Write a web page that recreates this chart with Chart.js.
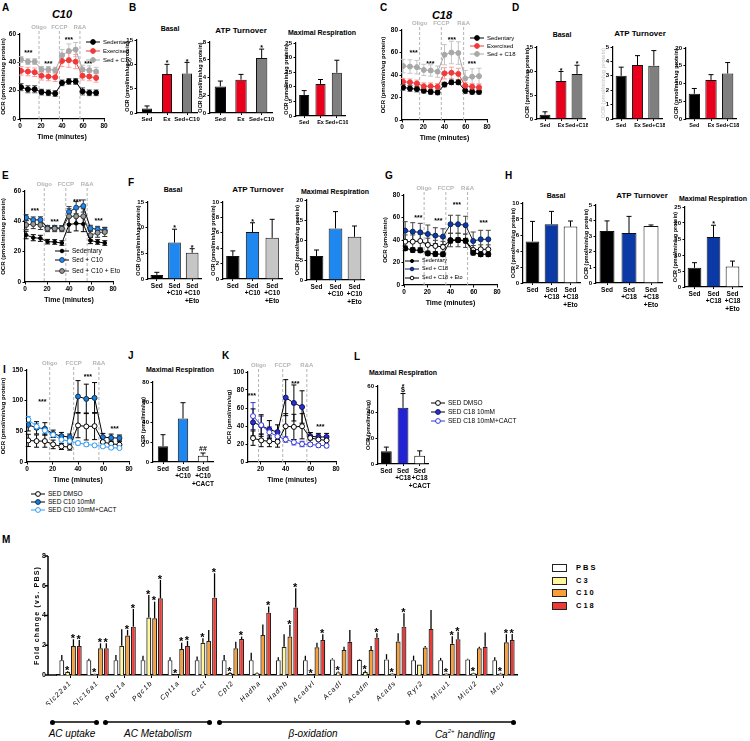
<!DOCTYPE html>
<html>
<head>
<meta charset="utf-8">
<title>OCR and gene expression</title>
<script src="https://cdn.jsdelivr.net/npm/chart.js@4.4.1/dist/chart.umd.min.js"></script>
<style>
  body { margin: 0; background: #fff; }
  #fig { position: relative; width: 750px; height: 741px; overflow: hidden; font-family: Arial, "Liberation Sans", sans-serif; color: #000; }
  #fig canvas { position: absolute; }
  .t { position: absolute; white-space: nowrap; line-height: 1; }
</style>
</head>
<body>
<div id="fig"></div>
<script>
// ---- time course data (Seahorse, 12 measurements) ----
const times = [1, 7.5, 14, 20.5, 27, 33.5, 40, 46.5, 53, 59.5, 66, 72.5];
// panel K only shows the measurements from 14 min on (axis starts at 10)
const kTimes = [14, 20.5, 27, 33.5, 40, 46.5, 53, 59.5, 66, 72.5];

const aSed = [22.5, 21, 21, 19, 18.5, 18, 25.5, 26.5, 26.5, 19.5, 18.5, 18.5];
const aSedErr = [2.5, 2.5, 2.5, 2, 2, 2, 2, 2, 2, 2.5, 2, 2];
const aEx = [34, 33.5, 33, 30.5, 30, 29.5, 41, 41.5, 40.5, 30.5, 30, 29];
const aExErr = [3, 3, 3, 3, 3, 3, 4, 5, 5, 3, 3, 3];
const aC10 = [42, 40.5, 40.5, 35, 35, 34.5, 45, 48, 49, 35, 34.5, 33.5];
const aC10Err = [2, 2, 2, 2, 2, 2, 4, 5, 5, 3, 3, 3];

const cSed = [29, 28, 27.5, 26, 25, 24.5, 31.5, 33.5, 33.5, 26, 25, 25];
const cSedErr = [2.5, 2.5, 2.5, 2, 2, 2, 2, 2, 2, 2.5, 2, 2];
const cEx = [34, 33.5, 32.5, 30, 30, 29.5, 41.5, 42, 41, 30.5, 29.5, 29];
const cExErr = [3, 3, 3, 3, 3, 3, 5, 5, 5, 3, 3, 3];
const cC18 = [48, 47.5, 47, 44.5, 44, 43, 58, 60, 59.5, 37, 38.5, 39];
const cC18Err = [6, 6, 6, 5, 5, 5, 9, 10, 10, 7, 7, 7];

const eSed = [31, 29.2, 28.8, 26.6, 26.4, 25.7, 37.8, 38.7, 38.2, 27.3, 26.4, 25.7];
const eSedErr = [2.5, 2, 2, 1.5, 1.5, 1.5, 5, 5, 5, 2, 1.5, 1.5];
const eC10 = [42.4, 40.9, 41, 35.8, 35.8, 35.4, 46.2, 49, 50.1, 35.4, 34.7, 34];
const eC10Err = [2, 2, 2, 1.5, 1.5, 1.5, 3.5, 4, 4, 2, 2, 2];
const eEto = [37.6, 38.2, 37.6, 35.2, 35.2, 35.2, 43.3, 43.3, 43.3, 30.8, 32.5, 33];
const eEtoErr = [3, 3, 3, 2, 2, 2, 5, 5, 5, 3, 3, 3];

const gSed = [32.6, 31.1, 30.8, 28.1, 27.6, 27.3, 39.4, 40, 39.4, 28.7, 27.3, 27.3];
const gSedErr = [2, 2, 2, 2, 2, 2, 2, 2, 2, 2, 2, 2];
const gC18 = [48.3, 47.4, 46.8, 45.3, 43.9, 43, 54, 54, 53.1, 39.1, 40.6, 40.6];
const gC18Err = [8, 8, 8, 8, 7, 7, 8, 8, 8, 8, 8, 8];
const gEto = [38.5, 38.5, 39.1, 35.6, 34.7, 33.8, 40, 40, 39.4, 31.1, 31.7, 31.7];
const gEtoErr = [6, 6, 6, 6, 5, 5, 6, 6, 6, 4, 4, 4];

const iDmso = [35.2, 34.1, 34.1, 28.7, 25.4, 24.4, 59.6, 57.9, 58.5, 32.5, 29.8, 28.2];
const iDmsoErr = [10, 10, 10, 7, 5, 5, 20, 22, 22, 8, 6, 6];
const iC10 = [60.6, 55.8, 54.1, 46, 42.2, 40.6, 106.7, 102.9, 104.5, 40.6, 39.5, 39];
const iC10Err = [10, 10, 10, 6, 6, 5, 26, 24, 25, 6, 6, 5];
const iCact = [69.3, 57.9, 51.4, 44.4, 36.3, 34.1, 30.9, 28.7, 27.1, 25.4, 23.3, 22.7];
const iCactErr = [5, 5, 5, 4, 3, 3, 3, 3, 2, 2, 2, 2];

const kDmso = [26.5, 24, 23, 22.5, 39.7, 39, 39.7, 26.7, 25, 24];
const kDmsoErr = [8, 7, 6, 6, 14, 14, 14, 6, 5, 5];
const kC18 = [44, 40.5, 36, 33.3, 71.5, 65.6, 61.1, 28.6, 27.8, 27.8];
const kC18Err = [15, 12, 10, 8, 20, 20, 18, 4, 4, 4];
const kCact = [51, 41, 33, 28.5, 25, 22, 20, 19.5, 18.5, 18];
const kCactErr = [15, 10, 6, 4, 3, 3, 3, 2, 2, 2];

// ---- bar data ----
const bBasal = [0.9, 8, 8.1], bBasalErr = [0.55, 2, 2.3];
const bAtp = [3, 3.75, 6.2], bAtpErr = [0.6, 0.6, 1.0];
const bMax = [7.2, 11, 14.8], bMaxErr = [1.5, 1.5, 4.3];
const dBasal = [0.9, 7.9, 9.4], dBasalErr = [0.6, 2.0, 1.8];
const dAtp = [3.0, 3.75, 3.7], dAtpErr = [0.6, 0.65, 1.05];
const dMax = [7.1, 11, 12.8], dMaxErr = [1.5, 1.5, 3.1];
const fBasal = [0.8, 7.1, 5.1], fBasalErr = [0.5, 2.6, 0.8];
const fAtp = [3.0, 6.1, 5.35], fAtpErr = [0.65, 1.2, 2.4];
const fMax = [6.0, 12.9, 10.8], fMaxErr = [1.5, 4.2, 2.7];
const hBasal = [5.2, 7.35, 7.05], hBasalErr = [2.5, 1.6, 0.7];
const hAtp = [3.33, 3.2, 3.65], hAtpErr = [0.65, 1.07, 0.07];
const hMax = [6.0, 15.6, 6.4], hMaxErr = [1.6, 3.7, 1.7];
const jMax = [15.8, 43.5, 6.2], jMaxErr = [11.5, 15.8, 2.8];
const lMax = [9.8, 43.2, 6.3], lMaxErr = [3.2, 11, 3.8];

// ---- panel M: gene expression ----
const genes = ['Slc22a1', 'Slc16a1', 'Pgc1a', 'Pgc1b', 'Cpt1a', 'Cact', 'Cpt2', 'Hadha', 'Hadhb', 'Acadvl', 'Acadl', 'Acadm', 'Acads', 'Ryr2', 'Micu1', 'Micu2', 'Mcu'];
const pbs = [1.0, 1.0, 1.0, 1.0, 1.0, 1.0, 1.0, 1.0, 1.0, 1.0, 1.05, 1.03, 1.05, 1.0, 1.0, 1.05, 1.0];
const pbsErr = [0.35, 0.1, 0.35, 0.3, 0.2, 0.25, 0.35, 0.5, 0.2, 0.3, 0.07, 0.05, 0.35, 0.3, 0.15, 0.05, 0.2];
const c3 = [0.22, 0.08, 1.97, 3.86, 0.05, 2.17, 0.15, 0.12, 1.9, 0.05, 0.18, 0.2, 0.1, 0.7, 0.1, 0.12, 0.1];
const c3Err = [0.05, 0.02, 1.1, 1.52, 0.02, 0.3, 0.05, 0.05, 0.84, 0.02, 0.05, 0.1, 0.03, 0, 0.03, 0.03, 0.05];
const c10 = [1.95, 1.8, 2.65, 3.81, 1.75, 2.29, 1.8, 2.69, 2.58, 1.86, 1.68, 1.68, 2.25, 1.85, 2.1, 1.8, 2.2];
const c10Err = [0.45, 0.33, 0.38, 1.12, 0.42, 0.74, 0.44, 0.71, 0.78, 0.31, 0.22, 0.27, 0.55, 0.1, 0.5, 0.1, 0.55];
const c18 = [1.95, 1.8, 3.25, 5.16, 1.95, 5.2, 2.42, 4.19, 4.53, 2.35, 2.24, 2.51, 3.25, 3.1, 2.4, 1.9, 2.35];
const c18Err = [0.4, 0.33, 1.19, 1.23, 0.34, 1.64, 0.16, 0.41, 1.3, 0.39, 0.79, 0.29, 0.9, 1.27, 0.5, 0.95, 0.4];
const c3Stars = [1, 1, 0, 1, 1, 1, 1, 0, 0, 1, 1, 1, 1, 0, 1, 1, 1];
const c10Stars = [1, 1, 1, 1, 1, 0, 0, 0, 1, 0, 0, 0, 0, 0, 1, 0, 1];
const c18Stars = [1, 1, 1, 1, 1, 1, 1, 1, 1, 1, 0, 1, 1, 0, 1, 0, 1];

// ---- setup ----
const fig = document.getElementById('fig');
const FONT = 'Arial, "Liberation Sans", sans-serif';
Chart.defaults.font.family = FONT;
Chart.defaults.color = '#000';
Chart.defaults.animation = false;
Chart.defaults.events = [];
Chart.defaults.plugins.legend.display = false;
Chart.defaults.plugins.tooltip.enabled = false;

function drawErr(chart, after) {
  const ctx = chart.ctx, ys = chart.scales.y;
  chart.data.datasets.forEach((ds, i) => {
    if (!ds.errors || !!ds.errAfter !== after) return;
    const meta = chart.getDatasetMeta(i);
    ctx.save();
    ctx.strokeStyle = ds.errColor || '#000';
    ctx.lineWidth = ds.errWidth || 1;
    meta.data.forEach((el, j) => {
      const raw = ds.data[j];
      const v = typeof raw === 'number' ? raw : raw.y;
      const e = ds.errors[j];
      if (!e) return;
      const top = ys.getPixelForValue(v + e);
      const bot = after ? ys.getPixelForValue(v) : ys.getPixelForValue(v - e);
      const c = ds.cap === undefined ? 2.5 : ds.cap;
      ctx.beginPath();
      ctx.moveTo(el.x, top);
      ctx.lineTo(el.x, bot);
      if (c) {
        ctx.moveTo(el.x - c, top); ctx.lineTo(el.x + c, top);
        if (!after) { ctx.moveTo(el.x - c, bot); ctx.lineTo(el.x + c, bot); }
      }
      ctx.stroke();
    });
    ctx.restore();
  });
}

const errBars = {
  id: 'errBars',
  beforeDatasetsDraw(chart) { drawErr(chart, false); },
  afterDatasetsDraw(chart) { drawErr(chart, true); }
};

const vlinePlug = {
  id: 'vlinePlug',
  beforeDatasetsDraw(chart, args, opts) {
    if (!opts || !opts.at) return;
    const ctx = chart.ctx, xs = chart.scales.x, a = chart.chartArea;
    ctx.save();
    ctx.strokeStyle = '#b4b4b4';
    ctx.fillStyle = '#b4b4b4';
    ctx.lineWidth = 1;
    ctx.setLineDash([3, 2]);
    ctx.font = 'bold 6px ' + FONT;
    ctx.textAlign = 'center';
    opts.at.forEach((t, k) => {
      const x = xs.getPixelForValue(t);
      ctx.beginPath();
      ctx.moveTo(x, a.top - 3);
      ctx.lineTo(x, a.bottom);
      ctx.stroke();
      ctx.fillText(opts.labels[k], x, a.top - 5);
    });
    ctx.restore();
  }
};

const starPlug = {
  id: 'starPlug',
  afterDatasetsDraw(chart, args, opts) {
    const ctx = chart.ctx, xs = chart.scales.x, ys = chart.scales.y;
    const size = (opts && opts.size) || 7;
    ctx.save();
    ctx.fillStyle = '#000';
    ctx.textAlign = 'center';
    ctx.font = 'bold ' + size + 'px ' + FONT;
    ((opts && opts.at) || []).forEach(s => {
      ctx.fillText('***', xs.getPixelForValue(s.x), ys.getPixelForValue(s.y));
    });
    chart.data.datasets.forEach((ds, i) => {
      if (!ds.stars) return;
      const meta = chart.getDatasetMeta(i);
      meta.data.forEach((el, j) => {
        const s = ds.stars[j];
        if (!s) return;
        // bottom of the mark sits just above the error bar
        let base = ys.getPixelForValue(ds.data[j] + (ds.errors ? ds.errors[j] : 0)) - 1.5;
        String(s === 1 ? '*' : s).split('\n').reverse().forEach(line => {
          if (/^\*+$/.test(line)) {
            ctx.fillText(line, el.x, base + size * 0.38);
            base -= size * 0.42;
          } else {
            ctx.fillText(line, el.x, base - size * 0.05);
            base -= size * 0.85;
          }
        });
      });
    });
    ctx.restore();
  }
};

const offAxis = {
  id: 'offAxis',
  afterDraw(chart, args, opts) {
    if (!opts || !opts.gap) return;
    const ctx = chart.ctx, a = chart.chartArea, ys = chart.scales.y;
    const x = a.left - opts.gap;
    ctx.save();
    ctx.strokeStyle = '#000';
    ctx.lineWidth = 1.5;
    ctx.beginPath();
    ctx.moveTo(x, a.top);
    ctx.lineTo(x, a.bottom);
    ctx.lineTo(a.left, a.bottom);
    ys.ticks.forEach(t => {
      const y = ys.getPixelForValue(t.value);
      ctx.moveTo(x, y);
      ctx.lineTo(x - 3, y);
    });
    ctx.stroke();
    ctx.restore();
  }
};

const spacing = {
  id: 'spacing',
  beforeLayout(chart, args, opts) { if (opts && opts.px) chart.ctx.letterSpacing = opts.px + 'px'; },
  beforeDraw(chart, args, opts) { if (opts && opts.px) chart.ctx.letterSpacing = opts.px + 'px'; }
};

Chart.register(errBars, vlinePlug, starPlug, offAxis, spacing);

function canvasAt(rect, m) {
  const c = document.createElement('canvas');
  c.width = Math.round(rect[2] - rect[0] + m[1] + m[3]);
  c.height = Math.round(rect[3] - rect[1] + m[0] + m[2]);
  c.style.left = (rect[0] - m[3]) + 'px';
  c.style.top = (rect[1] - m[0]) + 'px';
  fig.appendChild(c);
  return c;
}

function txt(html, x, y, css, center) {
  const d = document.createElement('div');
  d.className = 't';
  d.innerHTML = html;
  d.style.cssText = 'left:' + x + 'px;top:' + y + 'px;' + (css || '') +
    (center ? 'transform:translate(-50%,-50%);' : 'transform:translateY(-50%);');
  fig.appendChild(d);
}

function key(x, y, label, o) {
  const svg = '<svg width="14" height="8" style="vertical-align:middle">' +
    '<line x1="0" y1="4" x2="14" y2="4" stroke="' + (o.line || o.c) + '" stroke-width="1"/>' +
    '<circle cx="7" cy="4" r="' + (o.r || 2.4) + '" fill="' + o.f + '" stroke="' + o.c + '" stroke-width="1"/></svg>';
  txt(svg + '<span style="margin-left:3px;vertical-align:middle">' + label + '</span>', x - 7, y, 'font-size:' + (o.fs || 6.5) + 'px;');
}

function yAxis(max, step, title, m, fs, titleColor) {
  return {
    min: 0, max: max,
    ticks: { stepSize: step, font: { size: fs, weight: 'bold' }, padding: 1.5 },
    grid: { drawOnChartArea: false, color: '#000', tickLength: 2.5 },
    border: { color: '#000', width: 1.2 },
    title: { display: !!title, text: title, color: titleColor || '#000', font: { size: fs - 0.5, weight: 'bold' }, padding: 0 },
    afterFit: s => { s.width = m[3]; s.paddingTop = 0; s.paddingBottom = 0; }
  };
}

function xTime(m, min) {
  return {
    type: 'linear', min: min || 0, max: 80,
    ticks: { stepSize: 20, font: { size: 6.5, weight: 'bold' }, padding: 1, maxRotation: 0, includeBounds: false },
    grid: { drawOnChartArea: false, color: '#000', tickLength: 2.5 },
    border: { color: '#000', width: 1.2 },
    title: { display: true, text: 'Time (minutes)', font: { size: 7, weight: 'bold' }, padding: { top: 2, bottom: 0 } },
    afterFit: s => { s.height = m[2]; s.paddingLeft = 0; s.paddingRight = 0; }
  };
}

function timeCourse(rect, o) {
  const m = [12, 8, 22, o.L || 20];
  const t = o.t || times;
  new Chart(canvasAt(rect, m), {
    type: 'line',
    data: {
      datasets: o.series.map(s => ({
        data: t.map((x, i) => ({ x: x, y: s.v[i] })),
        errors: s.e, errColor: s.ec || s.c,
        borderColor: s.line || s.c, borderWidth: 1,
        pointRadius: s.r || 2.5, pointBackgroundColor: s.f || s.c,
        pointBorderColor: s.c, pointBorderWidth: 1
      }))
    },
    options: {
      responsive: false,
      layout: { padding: { top: m[0], right: m[1], left: 0, bottom: 0 } },
      scales: { x: xTime(m, o.xmin), y: yAxis(o.max, o.step, o.title, m, 6.5) },
      plugins: {
        vlinePlug: { at: o.vl, labels: ['Oligo', 'FCCP', 'R&A'] },
        starPlug: { at: o.stars, size: 7 }
      }
    }
  });
}

function barPanel(rect, o) {
  const rows = Math.max(...o.cats.map(c => Array.isArray(c) ? c.length : 1));
  const m = [6, 3, Math.round(4 + rows * 7.8), o.L || 13];
  new Chart(canvasAt(rect, m), {
    type: 'bar',
    data: {
      labels: o.cats,
      datasets: [{
        data: o.v, errors: o.e, errAfter: true, errColor: '#000', stars: o.s,
        backgroundColor: o.col, borderColor: '#111', borderWidth: 1,
        barPercentage: o.bp, categoryPercentage: 1
      }]
    },
    options: {
      responsive: false,
      layout: { padding: { top: m[0], right: m[1], left: 0, bottom: 0 } },
      scales: {
        x: {
          ticks: { font: { size: o.xfs || 6.5, weight: 'bold' }, padding: 1, maxRotation: 0, autoSkip: false },
          grid: { drawOnChartArea: false, offset: false, color: '#000', tickLength: 2 },
          border: { color: '#000', width: 1.2 },
          afterFit: s => { s.height = m[2]; s.paddingLeft = 0; s.paddingRight = 0; }
        },
        y: yAxis(o.max, o.step, o.title === undefined ? 'OCR (pmol/min/ug protein)' : o.title, m, 6, o.tc)
      },
      plugins: { starPlug: { size: 7 } }
    }
  });
}

// ---- panel letters and titles ----
const letter = 'font-size:10px;font-weight:bold;';
[['A', 2, 8], ['B', 129, 8], ['C', 380, 8], ['D', 512, 8], ['E', 2, 176], ['F', 128, 183], ['G', 385, 176],
 ['H', 505, 176], ['I', 3, 370], ['J', 128, 356], ['K', 222, 356], ['L', 354, 357], ['M', 2, 540]]
  .forEach(p => txt(p[0], p[1], p[2], letter));
txt('C10', 62, 14, 'font-size:11px;font-weight:bold;font-style:italic;', true);
txt('C18', 442, 15, 'font-size:11px;font-weight:bold;font-style:italic;', true);
const tb = 'font-size:7px;font-weight:bold;';
const tatp = 'font-size:8px;font-weight:bold;';
txt('Basal', 170, 28, tb, true);
txt('ATP Turnover', 241, 31, tatp, true);
txt('Maximal Respiration', 322, 32, tb, true);
txt('Basal', 562, 34, tb, true);
txt('ATP Turnover', 640, 34, tatp, true);
txt('Basal', 173, 189, tb, true);
txt('ATP Turnover', 258, 190, tatp, true);
txt('Maximal Respiration', 335, 191, tb, true);
txt('Basal', 556, 195, tb, true);
txt('ATP Turnover', 642, 196, tatp, true);
txt('Maximal Respiration', 713, 198, tb, true);
txt('Maximal Respiration', 180, 369, tb, true);
txt('Maximal Respiration', 403, 372, tb, true);

// ---- A ----
timeCourse([20, 34, 104, 119.3], {
  max: 60, step: 20, title: 'OCR (pmol/min/ug protein)', vl: [18.1, 37.5, 57.1],
  stars: [{ x: 8, y: 45.5 }, { x: 27, y: 37.5 }, { x: 46.5, y: 54.5 }, { x: 65, y: 37.5 }],
  series: [
    { v: aC10, e: aC10Err, c: '#a8a8a8', ec: '#c4c4c4' },
    { v: aEx, e: aExErr, c: '#f03a3a', ec: '#f4a0a0' },
    { v: aSed, e: aSedErr, c: '#000', ec: '#555' }
  ]
});
key(93, 42, 'Sedentary', { c: '#000', f: '#000', fs: 6 });
key(93, 51, 'Exercised', { c: '#f03a3a', f: '#f03a3a', fs: 6 });
key(93, 60, 'Sed + C10', { c: '#a8a8a8', f: '#a8a8a8', fs: 6 });

// ---- B ----
const sedEx10 = ['Sed', 'Ex', 'Sed+C10'];
const colEx = ['#000', '#e8001c', '#7f7f7f'];
barPanel([137, 40, 197, 112.7], { cats: sedEx10, v: bBasal, e: bBasalErr, s: [0, 1, 1], col: colEx, max: 15, step: 5, bp: 0.5, xfs: 6 });
barPanel([210, 42, 272, 112.7], { cats: sedEx10, v: bAtp, e: bAtpErr, s: [0, 0, 1], col: colEx, max: 8, step: 2, bp: 0.55, xfs: 6 });
barPanel([296, 43, 345, 116], { cats: sedEx10, v: bMax, e: bMaxErr, col: colEx, max: 25, step: 5, bp: 0.62, xfs: 5.5 });

// ---- C ----
timeCourse([402, 30, 487, 120], {
  max: 80, step: 20, title: 'OCR (pmol/min/ug protein)', L: 22, vl: [16.6, 37, 58],
  stars: [{ x: 11, y: 58 }, { x: 26.7, y: 48 }, { x: 47, y: 69.5 }, { x: 65.8, y: 48 }],
  series: [
    { v: cC18, e: cC18Err, c: '#a8a8a8', ec: '#c4c4c4' },
    { v: cEx, e: cExErr, c: '#f03a3a', ec: '#f4a0a0' },
    { v: cSed, e: cSedErr, c: '#000', ec: '#555' }
  ]
});
key(477, 38, 'Sedentary', { c: '#000', f: '#000', fs: 6 });
key(477, 46, 'Exercised', { c: '#f03a3a', f: '#f03a3a', fs: 6 });
key(477, 54, 'Sed + C18', { c: '#a8a8a8', f: '#a8a8a8', fs: 6 });

// ---- D ----
const sedEx18 = ['Sed', 'Ex', 'Sed+C18'];
barPanel([537, 47, 585, 119], { cats: sedEx18, v: dBasal, e: dBasalErr, s: [0, 1, 1], col: colEx, max: 15, step: 5, bp: 0.68, xfs: 5.5 });
barPanel([613, 47, 662, 119], { cats: sedEx18, v: dAtp, e: dAtpErr, col: colEx, max: 5, step: 1, bp: 0.68, tc: '#d0d0d0', xfs: 5.5 });
barPanel([686, 48, 736, 119], { cats: sedEx18, v: dMax, e: dMaxErr, col: colEx, max: 20, step: 5, bp: 0.68, xfs: 5.5 });

// ---- E ----
timeCourse([25, 191, 113, 282], {
  max: 60, step: 20, title: 'OCR (pmol/min/ug protein)', L: 25, vl: [17.5, 37.1, 56.5],
  stars: [{ x: 9, y: 45.5 }, { x: 27, y: 38.5 }, { x: 47.4, y: 51.5 }, { x: 67, y: 39 }],
  series: [
    { v: eSed, e: eSedErr, c: '#000', r: 1.8 },
    { v: eEto, e: eEtoErr, c: '#333', f: '#9a9a9a', ec: '#333' },
    { v: eC10, e: eC10Err, c: '#1b3f66', f: '#1e88f0', line: '#000', ec: '#333' }
  ]
});
key(62, 251, 'Sedentary', { c: '#000', f: '#000', r: 1.8, fs: 6.5 });
key(62, 260, 'Sed + C10', { c: '#1b3f66', f: '#1e88f0', line: '#000', fs: 6.5 });
key(62, 271, 'Sed + C10 + Eto', { c: '#333', f: '#9a9a9a', fs: 6.5 });

// ---- F ----
const c10Eto = ['Sed', ['Sed', '+C10'], ['Sed', '+C10', '+Eto']];
const colF = ['#000', '#1e88f0', '#c6c6c6'];
barPanel([148, 202, 201, 279], { cats: c10Eto, v: fBasal, e: fBasalErr, s: [0, 1, 1], col: colF, max: 15, step: 5, bp: 0.72 });
barPanel([223, 202, 282, 279], { cats: c10Eto, v: fAtp, e: fAtpErr, s: [0, 1, 0], col: colF, max: 10, step: 2, bp: 0.68 });
barPanel([307, 200, 364, 280], { cats: c10Eto, v: fMax, e: fMaxErr, col: colF, max: 20, step: 5, bp: 0.72 });

// ---- G ----
timeCourse([404, 195, 497, 285], {
  max: 80, step: 20, title: 'OCR (pmol/min)', L: 22, vl: [17.3, 36, 54.7],
  stars: [{ x: 12.4, y: 57.5 }, { x: 29.6, y: 55 }, { x: 45.5, y: 69 }, { x: 68.5, y: 53.5 }],
  series: [
    { v: gSed, e: gSedErr, c: '#000', r: 2.6 },
    { v: gEto, e: gEtoErr, c: '#000', f: '#fff', ec: '#444' },
    { v: gC18, e: gC18Err, c: '#08245e', f: '#0b3aa6', line: '#222', ec: '#444' }
  ]
});
key(412, 261, 'Sedentary', { c: '#000', f: '#000', r: 1.6, fs: 5.5 });
key(412, 269, 'Sed + C18', { c: '#08245e', f: '#0b3aa6', r: 1.8, fs: 5.5 });
key(412, 278, 'Sed + C18 + Eto', { c: '#000', f: '#fff', r: 1.8, fs: 5.5 });

// ---- H ----
const c18Eto = ['Sed', ['Sed', '+C18'], ['Sed', '+C18', '+Eto']];
const colH = ['#000', '#0b3aa6', '#fff'];
barPanel([523, 203, 580, 283], { cats: c18Eto, v: hBasal, e: hBasalErr, col: colH, max: 10, step: 2, bp: 0.72 });
barPanel([596, 205, 662, 283], { cats: c18Eto, v: hAtp, e: hAtpErr, col: colH, max: 5, step: 1, bp: 0.68 });
barPanel([685, 207, 742, 287], { cats: c18Eto, v: hMax, e: hMaxErr, s: [0, 1, 0], col: colH, max: 25, step: 5, bp: 0.72 });

// ---- I ----
timeCourse([27, 370, 129, 462], {
  max: 150, step: 50, title: 'OCR (pmol/min/ug protein)', L: 27, vl: [17.8, 36.6, 56.4],
  stars: [{ x: 12, y: 95 }, { x: 47.8, y: 136 }, { x: 68.7, y: 51 }],
  series: [
    { v: iCact, e: iCactErr, c: '#2f9bf5', f: '#fff', ec: '#2f9bf5' },
    { v: iDmso, e: iDmsoErr, c: '#000', f: '#fff' },
    { v: iC10, e: iC10Err, c: '#0d2f55', f: '#1e7fd8', line: '#000', ec: '#000' }
  ]
});
key(38, 494, 'SED DMSO', { c: '#000', f: '#fff', fs: 6.5 });
key(38, 502, 'SED C10 10mM', { c: '#0d2f55', f: '#1e7fd8', line: '#000', fs: 6.5 });
key(38, 510, 'SED C10 10mM+CACT', { c: '#2f9bf5', f: '#fff', fs: 6.5 });

// ---- J ----
barPanel([153, 382, 213, 462], {
  cats: ['Sed', ['Sed', '+C10'], ['Sed', '+C10', '+CACT']], v: jMax, e: jMaxErr, s: [0, 0, '##'],
  col: ['#000', '#1e88f0', '#fff'], max: 80, step: 20, bp: 0.52, title: 'OCR (pmol/min/ug)'
});

// ---- K ----
timeCourse([248, 372, 336, 462], {
  t: kTimes, xmin: 10,
  max: 100, step: 20, title: 'OCR (pmol/min/ug)', L: 22, vl: [18.4, 37.6, 56.8],
  stars: [{ x: 13, y: 71 }, { x: 47.7, y: 85 }, { x: 67.6, y: 37 }],
  series: [
    { v: kCact, e: kCactErr, c: '#3838d8', f: '#fff', ec: '#3838d8' },
    { v: kDmso, e: kDmsoErr, c: '#000', f: '#fff' },
    { v: kC18, e: kC18Err, c: '#10106a', f: '#2a2fd0', line: '#000', ec: '#000' }
  ]
});

// ---- L ----
barPanel([378, 386, 428, 464], {
  cats: ['Sed', ['Sed', '+C18'], ['Sed', '+C18', '+CACT']], v: lMax, e: lMaxErr, s: [0, '*\n$', 0],
  col: ['#000', '#2323d6', '#fff'], max: 60, step: 20, bp: 0.65, title: 'OCR (pmol/min/ug)'
});
key(438, 403, 'SED DMSO', { c: '#000', f: '#fff', fs: 6.5 });
key(438, 412, 'SED C18 10mM', { c: '#10106a', f: '#2a2fd0', line: '#000', fs: 6.5 });
key(438, 421, 'SED C18 10mM+CACT', { c: '#3838d8', f: '#fff', fs: 6.5 });

// ---- M ----
const mm = [8, 4, 30, 24];
new Chart(canvasAt([57, 556, 517, 675], mm), {
  type: 'bar',
  data: {
    labels: genes,
    datasets: [
      { label: 'PBS', data: pbs, errors: pbsErr, backgroundColor: '#fff' },
      { label: 'C3', data: c3, errors: c3Err, stars: c3Stars, backgroundColor: '#fff79a' },
      { label: 'C10', data: c10, errors: c10Err, stars: c10Stars, backgroundColor: '#f99f38' },
      { label: 'C18', data: c18, errors: c18Err, stars: c18Stars, backgroundColor: '#ee3a36' }
    ].map(d => Object.assign(d, { errAfter: true, cap: 0, errWidth: 1.3, borderColor: '#222', borderWidth: 1.2, barPercentage: 0.84, categoryPercentage: 0.86 }))
  },
  options: {
    responsive: false,
    layout: { padding: { top: mm[0], right: mm[1], left: 0, bottom: 0 } },
    scales: {
      x: {
        ticks: { font: { size: 7, style: 'italic' }, minRotation: 45, maxRotation: 45, padding: 1, autoSkip: false },
        grid: { drawOnChartArea: false, offset: false, color: '#000', tickLength: 3 },
        border: { color: '#000', width: 1.5 },
        afterFit: s => { s.height = mm[2]; s.paddingLeft = 0; s.paddingRight = 0; }
      },
      y: {
        min: 0, max: 8,
        ticks: { stepSize: 2, font: { size: 7, weight: 'bold' }, padding: 10 },
        grid: { display: false, drawTicks: false },
        border: { display: false },
        title: { display: true, text: 'Fold change (vs. PBS)', font: { size: 7, weight: 'bold' }, padding: 0 },
        afterFit: s => { s.width = mm[3]; s.paddingTop = 0; s.paddingBottom = 0; }
      }
    },
    plugins: { offAxis: { gap: 9 }, spacing: { px: 1.2 }, starPlug: { size: 11 } }
  }
});

// legend for M
[['PBS', '#fff'], ['C3', '#fff79a'], ['C10', '#f99f38'], ['C18', '#ee3a36']].forEach((k, i) => {
  const y = 568 + i * 12.6;
  const b = document.createElement('div');
  b.style.cssText = 'position:absolute;left:552px;top:' + (y - 4) + 'px;width:13px;height:6px;border:1.2px solid #222;background:' + k[1] + ';';
  fig.appendChild(b);
  txt(k[0], 576, y, 'font-size:7.5px;font-weight:bold;letter-spacing:2px;');
});

// category brackets under M
function bracket(x0, x1, label, lx) {
  const y = 722;
  const l = document.createElement('div');
  l.style.cssText = 'position:absolute;left:' + x0 + 'px;top:' + (y - 0.6) + 'px;width:' + (x1 - x0) + 'px;height:1.2px;background:#444;';
  fig.appendChild(l);
  [x0, x1].forEach(x => {
    const d = document.createElement('div');
    d.style.cssText = 'position:absolute;left:' + (x - 2.5) + 'px;top:' + (y - 2.5) + 'px;width:5px;height:5px;border-radius:50%;background:#000;';
    fig.appendChild(d);
  });
  txt(label, lx, y + 12, 'font-size:10px;font-style:italic;', true);
}
bracket(52, 96, 'AC uptake', 72);
bracket(105, 209, 'AC Metabolism', 158);
bracket(219, 407, 'β-oxidation', 313);
bracket(418, 513, 'Ca<sup style="font-size:6px">2+</sup> handling', 465);
</script>
</body>
</html>
